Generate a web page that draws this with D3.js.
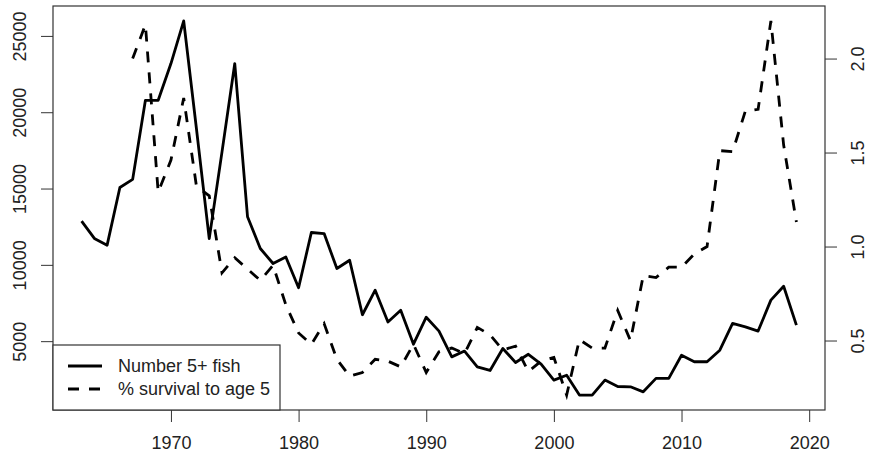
<!DOCTYPE html>
<html>
<head>
<meta charset="utf-8">
<script src="https://cdn.jsdelivr.net/npm/d3@7"></script>
<style>
  html, body { margin: 0; padding: 0; background: #fff; }
  text { font-family: "Liberation Sans", Arial, sans-serif; }
</style>
</head>
<body>
<div id="app"></div>
<script>
// Number of 5+ fish, 1963-2019
const fishYears = d3.range(1963, 2020);
const fish = [
  12860, 11730, 11290, 15070, 15600, 20780, 20780, 23190, 25980, 18900,
  11720, 17400, 23190, 13150, 11070, 10090, 10520, 8500, 12120, 12050,
  9760, 10300, 6730, 8340, 6260, 7030, 4800, 6570, 5660, 3970,
  4350, 3320, 3080, 4520, 3600, 4140, 3500, 2450, 2770, 1470,
  1470, 2450, 2030, 2010, 1680, 2560, 2560, 4080, 3650, 3650,
  4410, 6160, 5940, 5660, 7690, 8600, 6050
];

// % survival to age 5, 1967-2019
const survivalYears = d3.range(1967, 2020);
const survival = [
  2.00, 2.18, 1.29, 1.46, 1.79, 1.32, 1.27, 0.86, 0.94, 0.88,
  0.82, 0.90, 0.69, 0.54, 0.48, 0.59, 0.40, 0.31, 0.33, 0.40,
  0.39, 0.36, 0.48, 0.33, 0.44, 0.46, 0.43, 0.57, 0.53, 0.45,
  0.47, 0.335, 0.39, 0.41, 0.21, 0.505, 0.46, 0.46, 0.66, 0.50,
  0.845, 0.835, 0.89, 0.89, 0.96, 1.00, 1.51, 1.505, 1.72, 1.73,
  2.20, 1.54, 1.13
];

const xTicks = [1970, 1980, 1990, 2000, 2010, 2020];
const leftTicks = [5000, 10000, 15000, 20000, 25000];
const rightTicks = [0.5, 1.0, 1.5, 2.0];
const legendLabels = ["Number 5+ fish", "% survival to age 5"];

const width = 869, height = 457;
const margin = { top: 6, right: 44, bottom: 47, left: 53 };
const ink = "#333";

// R style 4% padding on the data range
function padded(ext) {
  const p = (ext[1] - ext[0]) * 0.04;
  return [ext[0] - p, ext[1] + p];
}

const svg = d3.select("#app")
  .append("svg")
  .attr("width", width)
  .attr("height", height)
  .attr("viewBox", [0, 0, width, height]);

const x = d3.scaleLinear()
  .domain(padded(d3.extent(fishYears)))
  .range([margin.left, width - margin.right]);

const yLeft = d3.scaleLinear()
  .domain(padded(d3.extent(fish)))
  .range([height - margin.bottom, margin.top]);

const yRight = d3.scaleLinear()
  .domain(padded(d3.extent(survival)))
  .range([height - margin.bottom, margin.top]);

// Lines
const fishLine = d3.line()
  .x((d, i) => x(fishYears[i]))
  .y(d => yLeft(d));

const survLine = d3.line()
  .x((d, i) => x(survivalYears[i]))
  .y(d => yRight(d));

svg.append("path")
  .datum(fish)
  .attr("fill", "none")
  .attr("stroke", "#000")
  .attr("stroke-width", 2.8)
  .attr("stroke-linejoin", "round")
  .attr("d", fishLine);

svg.append("path")
  .datum(survival)
  .attr("fill", "none")
  .attr("stroke", "#000")
  .attr("stroke-width", 2.8)
  .attr("stroke-dasharray", "11,10")
  .attr("d", survLine);

// Axes
const tickLen = 12;

svg.append("g")
  .attr("transform", `translate(0,${height - margin.bottom})`)
  .call(d3.axisBottom(x).tickValues(xTicks).tickFormat(d3.format("d")).tickSize(tickLen))
  .call(g => g.select(".domain").remove())
  .call(g => g.selectAll(".tick line").attr("stroke", ink))
  .call(g => g.selectAll(".tick text")
    .attr("y", 33).attr("dy", "0.35em")
    .attr("fill", "#222").attr("font-size", 18)
    .attr("font-family", "'Liberation Sans', Arial, sans-serif"));

svg.append("g")
  .attr("transform", `translate(${margin.left},0)`)
  .call(d3.axisLeft(yLeft).tickValues(leftTicks).tickFormat(d3.format("d")).tickSize(tickLen))
  .call(g => g.select(".domain").remove())
  .call(g => g.selectAll(".tick line").attr("stroke", ink))
  .call(g => g.selectAll(".tick text")
    .attr("transform", "rotate(-90)")
    .attr("x", 0).attr("y", -33).attr("dy", "0.35em")
    .attr("text-anchor", "middle")
    .attr("fill", "#222").attr("font-size", 18)
    .attr("font-family", "'Liberation Sans', Arial, sans-serif"));

svg.append("g")
  .attr("transform", `translate(${width - margin.right},0)`)
  .call(d3.axisRight(yRight).tickValues(rightTicks).tickFormat(d3.format(".1f")).tickSize(tickLen))
  .call(g => g.select(".domain").remove())
  .call(g => g.selectAll(".tick line").attr("stroke", ink))
  .call(g => g.selectAll(".tick text")
    .attr("transform", "rotate(-90)")
    .attr("x", 0).attr("y", 33).attr("dy", "0.35em")
    .attr("text-anchor", "middle")
    .attr("fill", "#222").attr("font-size", 18)
    .attr("font-family", "'Liberation Sans', Arial, sans-serif"));

// Plot frame
svg.append("rect")
  .attr("x", margin.left)
  .attr("y", margin.top)
  .attr("width", width - margin.left - margin.right)
  .attr("height", height - margin.top - margin.bottom)
  .attr("fill", "none")
  .attr("stroke", ink)
  .attr("stroke-width", 1.2);

// Legend, bottom left
const legend = svg.append("g")
  .attr("transform", `translate(${margin.left},${height - margin.bottom - 65})`);

legend.append("rect")
  .attr("width", 227)
  .attr("height", 65)
  .attr("fill", "#fff")
  .attr("stroke", ink)
  .attr("stroke-width", 1.2);

const rows = legend.selectAll("g.row")
  .data(legendLabels)
  .join("g")
  .attr("class", "row")
  .attr("transform", (d, i) => `translate(0,${21 + i * 23})`);

rows.append("line")
  .attr("x1", 15)
  .attr("x2", 49)
  .attr("stroke", "#000")
  .attr("stroke-width", 2.8)
  .attr("stroke-dasharray", (d, i) => (i === 1 ? "11,10" : null));

rows.append("text")
  .attr("x", 65)
  .attr("dy", "0.35em")
  .attr("font-size", 18)
  .attr("fill", "#222")
  .text(d => d);
</script>
</body>
</html>
